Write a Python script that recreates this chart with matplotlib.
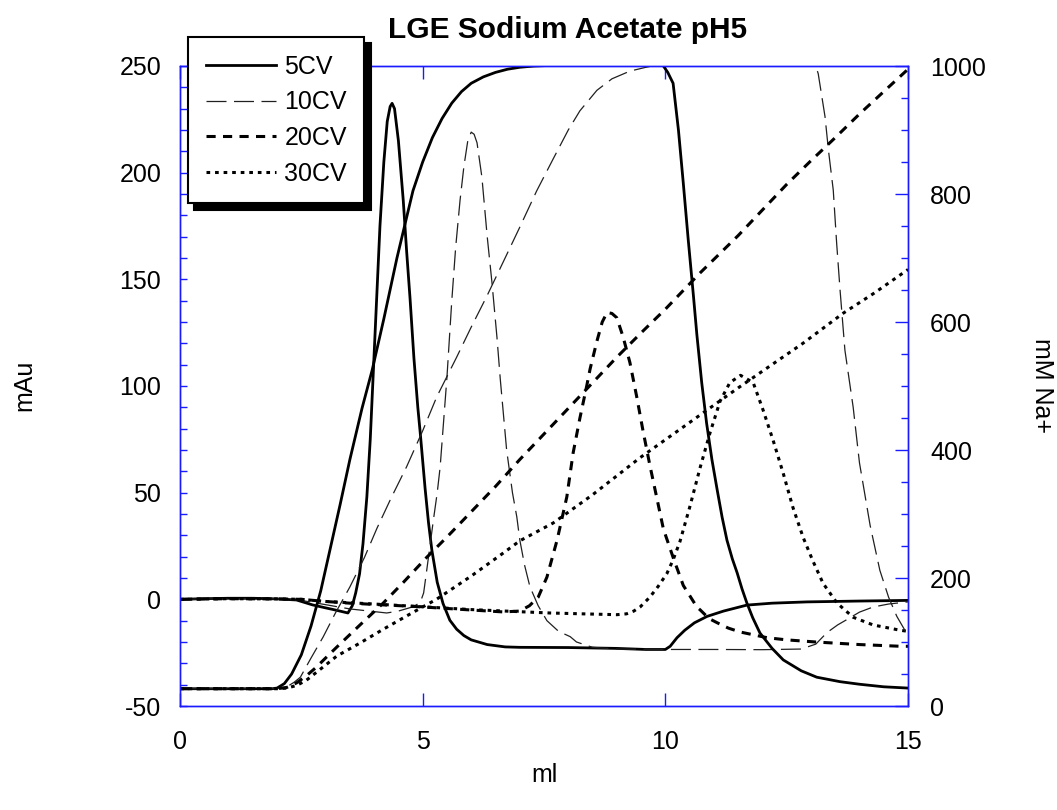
import matplotlib
matplotlib.use('Agg')
import matplotlib.pyplot as plt
from matplotlib.ticker import MultipleLocator, FixedLocator

plt.rcParams['font.family'] = ['Liberation Sans', 'DejaVu Sans']

title = 'LGE Sodium Acetate pH5'
labels = ['5CV', '10CV', '20CV', '30CV']
x_ticks = [0, 5, 10, 15]

# ---------------- absorbance traces (mAu, left axis) ----------------
abs5_x = [0.0, 0.5, 1.0, 1.5, 2.0, 2.4, 2.73, 3.0, 3.2, 3.46, 3.55, 3.62, 3.7, 3.77, 3.85,
          3.92, 3.98, 4.05, 4.12, 4.2, 4.27, 4.33, 4.37, 4.42, 4.5, 4.6, 4.67, 4.74, 4.82,
          4.9, 4.95, 5.05, 5.12, 5.19, 5.3, 5.42, 5.56, 5.7, 5.85, 6.0, 6.33, 6.7, 7.0, 8.0,
          9.0, 9.6, 10.0, 10.1, 10.24, 10.4, 10.6, 10.86, 11.2, 11.68, 12.2, 12.92, 14.0, 15.0]
abs5_y = [0.0, 0.3, 0.5, 0.5, 0.2, -0.3, -2.6, -4.0, -5.0, -6.4, -3.0, 3.0, 12.0, 26.0, 48.0,
          75.0, 105.0, 140.0, 175.0, 205.0, 224.0, 231.0, 232.5, 230.0, 215.0, 187.0, 163.0,
          141.0, 113.0, 90.0, 78.0, 52.0, 36.0, 23.0, 8.0, -2.0, -9.8, -14.0, -17.0, -19.0,
          -21.2, -22.3, -22.5, -22.6, -23.0, -23.5, -23.5, -22.0, -18.0, -14.5, -11.0, -8.0,
          -5.5, -2.7, -1.8, -1.2, -0.8, -0.5]

abs10_x = [0.0, 1.0, 2.0, 2.5, 3.0, 3.5, 3.9, 4.26, 4.5, 4.8, 4.95, 5.02, 5.08, 5.15, 5.22,
           5.3, 5.36, 5.43, 5.5, 5.6, 5.68, 5.77, 5.85, 5.93, 6.0, 6.06, 6.12, 6.22, 6.33,
           6.43, 6.53, 6.6, 6.73, 6.85, 6.94, 7.0, 7.1, 7.21, 7.38, 7.56, 7.8, 8.04, 8.17,
           8.5, 9.0, 10.0, 11.0, 12.0, 12.8, 13.1, 13.33, 13.55, 13.74, 14.0, 14.28, 14.6, 15.0]
abs10_y = [0.0, 0.3, 0.2, -0.5, -2.5, -4.5, -5.5, -6.4, -5.5, -3.5, -1.5, 3.0, 13.0, 25.0,
           37.0, 50.0, 62.0, 83.0, 104.0, 140.0, 165.0, 187.0, 203.0, 215.0, 219.0, 218.0,
           214.0, 198.0, 170.0, 148.0, 123.0, 103.0, 70.0, 50.0, 38.6, 28.0, 16.0, 5.9, -3.0,
           -10.0, -15.0, -17.5, -20.0, -22.5, -23.3, -23.5, -23.5, -23.6, -23.3, -21.0, -15.6,
           -12.0, -9.5, -6.0, -3.6, -2.2, -1.2]

abs20_x = [0.0, 1.0, 2.0, 2.5, 3.0, 3.5, 4.19, 4.8, 5.3, 6.0, 6.66, 7.0, 7.2, 7.38, 7.56,
           7.77, 7.97, 8.1, 8.24, 8.38, 8.45, 8.59, 8.7, 8.8, 8.9, 9.0, 9.13, 9.27, 9.41,
           9.54, 9.68, 9.82, 9.96, 10.17, 10.37, 10.44, 10.65, 10.72, 10.9, 11.07, 11.3,
           11.54, 12.1, 12.5, 13.1, 14.0, 14.84, 15.0]
abs20_y = [0.0, 0.3, 0.2, 0.0, -1.0, -1.8, -2.6, -3.3, -4.0, -5.0, -5.9, -5.5, -3.0, 1.0,
           10.4, 27.8, 48.0, 68.6, 85.0, 100.0, 108.0, 121.0, 130.0, 134.5, 134.0, 132.0,
           123.0, 111.0, 95.0, 79.0, 63.0, 48.0, 33.0, 19.0, 6.5, 4.0, -3.6, -5.0, -9.0,
           -11.0, -13.5, -15.3, -18.0, -19.0, -20.0, -21.2, -22.0, -22.0]

abs30_x = [0.0, 1.0, 2.0, 2.5, 3.0, 4.0, 5.0, 6.0, 7.0, 7.62, 8.3, 9.0, 9.2, 9.35, 9.48,
           9.68, 9.85, 10.03, 10.16, 10.3, 10.5, 10.72, 10.92, 11.13, 11.33, 11.55, 11.81,
           12.01, 12.22, 12.43, 12.63, 12.84, 13.04, 13.25, 13.54, 13.87, 14.28, 14.84, 15.0]
abs30_y = [0.0, 0.3, 0.2, 0.0, -1.0, -2.2, -3.5, -4.8, -5.8, -6.4, -6.8, -7.2, -6.8, -5.5,
           -3.6, 1.0, 6.0, 12.0, 18.5, 27.0, 43.0, 62.0, 78.0, 93.0, 101.6, 105.0, 101.6,
           89.0, 74.6, 59.0, 43.0, 29.0, 18.0, 7.5, -1.8, -8.4, -12.0, -14.5, -15.0]

# ---------------- salt gradient traces (mM Na+, right axis) ----------------
grad5_x = [0.0, 1.0, 1.9, 2.0, 2.15, 2.3, 2.5, 2.7, 2.9, 3.09, 3.3, 3.5, 3.75, 3.96, 4.2,
           4.47, 4.8, 5.0, 5.2, 5.4, 5.6, 5.8, 6.0, 6.25, 6.5, 6.75, 7.0, 7.3, 7.67, 7.8,
           9.9, 9.96, 10.05, 10.16, 10.27, 10.37, 10.47, 10.58, 10.65, 10.75, 10.85, 10.96,
           11.07, 11.17, 11.27, 11.38, 11.48, 11.58, 11.68, 11.8, 11.95, 12.2, 12.43, 12.8,
           13.12, 13.6, 14.0, 14.5, 15.0]
grad5_y = [27, 27, 27, 28, 35, 50, 80, 125, 180, 244, 315, 385, 465, 525, 605, 700, 805,
           850, 888, 918, 942, 960, 973, 983, 990, 995, 998, 1000, 1001, 1010, 1010, 1000,
           990, 973, 900, 817, 730, 640, 580, 505, 442, 385, 337, 295, 259, 230, 208, 183,
           161, 138, 114, 90, 72, 55, 45, 38, 34, 30, 28]

grad10_x = [0.0, 2.0, 2.2, 2.35, 2.48, 2.7, 2.95, 3.2, 3.5, 3.8, 4.06, 4.35, 4.67, 5.0,
            5.29, 5.7, 6.0, 6.32, 6.73, 7.0, 7.35, 7.69, 8.0, 8.24, 8.59, 8.9, 9.27, 9.6,
            9.85, 10.0, 13.0, 13.1, 13.15, 13.29, 13.36, 13.46, 13.53, 13.6, 13.7, 13.87,
            14.0, 14.22, 14.42, 14.6, 14.77, 15.0]
grad10_y = [27, 27, 30, 37, 45, 75, 108, 145, 186, 232, 278, 325, 374, 430, 483, 545, 592,
            640, 705, 748, 805, 855, 900, 930, 962, 980, 992, 998, 1002, 1010, 1010, 1000,
            988, 921, 869, 806, 723, 650, 556, 467, 380, 282, 212, 170, 140, 110]

grad20_x = [0.0, 2.0, 2.2, 2.4, 2.6, 2.8, 3.0, 3.23, 3.7, 4.19, 4.6, 5.08, 5.5, 5.83, 6.5,
            7.0, 7.5, 8.0, 8.5, 9.0, 9.5, 10.0, 10.72, 11.5, 12.0, 12.5, 13.0, 13.5, 14.0,
            14.5, 15.0]
grad20_y = [27, 27, 29, 36, 47, 60, 75, 92, 126, 161, 193, 232, 264, 290, 343, 385, 425,
            465, 505, 545, 583, 620, 677, 735, 775, 815, 852, 888, 925, 960, 995]

grad30_x = [0.0, 2.0, 2.2, 2.4, 2.6, 2.8, 3.0, 3.23, 3.7, 4.19, 4.7, 5.29, 6.0, 6.66, 7.0,
            7.69, 8.5, 9.48, 10.5, 11.5, 12.84, 13.67, 14.3, 15.0]
grad30_y = [27, 27, 28, 32, 40, 52, 64, 78, 98, 120, 142, 167, 203, 239, 258, 286, 330,
            388, 443, 497, 567, 614, 645, 682]

abs_data = [(abs5_x, abs5_y), (abs10_x, abs10_y), (abs20_x, abs20_y), (abs30_x, abs30_y)]
grad_data = [(grad5_x, grad5_y), (grad10_x, grad10_y), (grad20_x, grad20_y), (grad30_x, grad30_y)]

styles = [
    dict(color='black', linewidth=2.0, linestyle='-'),
    dict(color='#202020', linewidth=0.9, dashes=(16, 6)),
    dict(color='black', linewidth=2.2, dashes=(3.0, 2.4)),
    dict(color='black', linewidth=2.2, dashes=(1.2, 1.6)),
]

W, H = 1057, 810
fig = plt.figure(figsize=(W / 100, H / 100), dpi=100)
ax = fig.add_axes([180 / W, 1 - 706 / H, (908 - 180) / W, (706 - 66) / H])
ax2 = ax.twinx()

handles = []
for (xs, ys), (gx, gy), st, lab in zip(abs_data, grad_data, styles, labels):
    h, = ax.plot(xs, ys, label=lab, **st)
    ax2.plot(gx, gy, **st)
    handles.append(h)

ax.set_xlim(0, 15)
ax.set_ylim(-50, 250)
ax2.set_ylim(0, 1000)

blue = '#1a1aff'
for a in (ax, ax2):
    for s in a.spines.values():
        s.set_color(blue)
        s.set_linewidth(1.0)

ax.xaxis.set_major_locator(FixedLocator(x_ticks))
ax.set_yticks([-50, 0, 50, 100, 150, 200, 250])
ax.set_yticklabels(['-50', '0', '50', '100', '150', '200', '250'])
ax.yaxis.set_minor_locator(MultipleLocator(10))
ax.tick_params(axis='x', which='major', direction='in', length=9.5, width=1.0,
               color=blue, top=True, labelsize=18, pad=17, labelcolor='black')
ax.tick_params(axis='y', which='both', direction='in', length=5, width=1.0,
               color=blue, labelsize=18, pad=13.5, labelcolor='black')

ax2.yaxis.set_major_locator(MultipleLocator(200))
ax2.yaxis.set_minor_locator(MultipleLocator(50))
ax2.tick_params(axis='y', which='major', direction='in', length=9.5, width=1.0,
                color=blue, labelsize=18, pad=16, labelcolor='black')
ax2.tick_params(axis='y', which='minor', direction='in', length=5, width=1.0, color=blue)

fig.text(568 / W, 1 - 30 / H, title, ha='center', va='center', fontsize=21.5, fontweight='bold')
fig.text(544 / W, 1 - 775 / H, 'ml', ha='center', va='center', fontsize=18)
fig.text(24 / W, 1 - 385 / H, 'mAu', ha='center', va='center', fontsize=18, rotation=90)
fig.text(1042 / W, 1 - 385 / H, 'mM Na+', ha='center', va='center', fontsize=18, rotation=270)

# legend placed on the twin axes so it is drawn above both sets of spines
leg = ax2.legend(handles=handles, loc='upper left', bbox_to_anchor=(188 / W, 1 - 37 / H),
                 bbox_transform=fig.transFigure, fontsize=18, frameon=True, fancybox=False,
                 framealpha=1, edgecolor='black', borderaxespad=0, borderpad=0.7,
                 handlelength=2.8, handletextpad=0.35, labelspacing=0.47,
                 shadow={'ox': 4.5, 'oy': -4.5, 'facecolor': 'black', 'edgecolor': 'black',
                         'alpha': 1})
leg.get_frame().set_linewidth(1.5)
leg.set_zorder(10)

fig.savefig('out.png', dpi=100)
